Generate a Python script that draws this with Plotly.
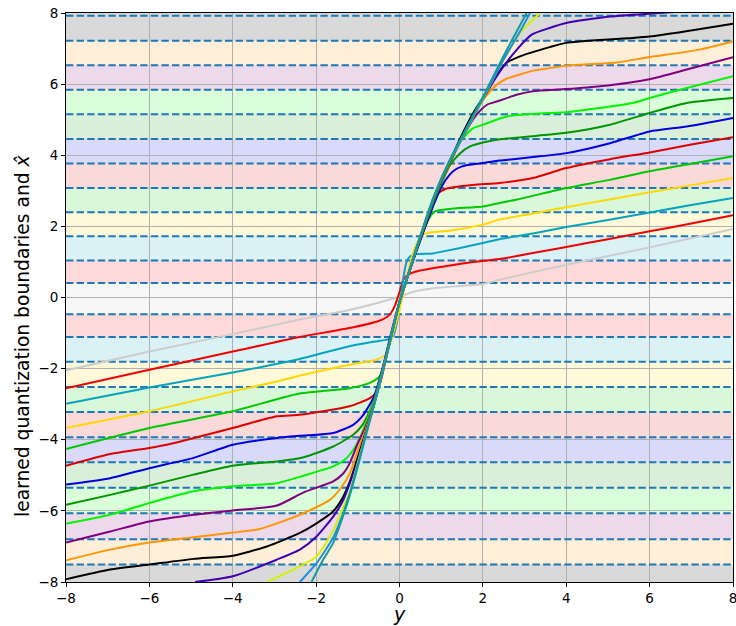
import plotly.graph_objects as go

# ---------------- data ----------------
TICK_VALS = [-8, -6, -4, -2, 0, 2, 4, 6, 8]
TICK_TEXT = ["\u22128", "\u22126", "\u22124", "\u22122", "0", "2", "4", "6", "8"]

# quantization boundaries (dashed lines)
BOUNDS = [-7.51, -6.80, -6.07, -5.35, -4.63, -3.93, -3.22, -2.52, -1.81, -1.11, -0.47,
          0.41, 1.04, 1.72, 2.40, 3.08, 3.77, 4.46, 5.15, 5.84, 6.53, 7.22, 7.92]
BAND_LO = [-8.0, -7.51, -6.80, -6.07, -5.35, -4.63, -3.93, -3.22, -2.52, -1.81, -1.11, -0.47,
           0.41, 1.04, 1.72, 2.40, 3.08, 3.77, 4.46, 5.15, 5.84, 6.53, 7.22, 7.92]
BAND_HI = [-7.51, -6.80, -6.07, -5.35, -4.63, -3.93, -3.22, -2.52, -1.81, -1.11, -0.47, 0.41,
           1.04, 1.72, 2.40, 3.08, 3.77, 4.46, 5.15, 5.84, 6.53, 7.22, 7.92, 8.0]
BAND_KEY = ["black", "orange", "purple", "lime", "dgreen", "blue", "dred", "green", "gold", "cyan", "red", "gray",
            "red", "cyan", "gold", "green", "dred", "blue", "dgreen", "lime", "purple", "orange", "black", "black"]

X_GRAY = [-8, -6, -4, -2.4, -1.2, -0.55, 0.0, 0.3, 0.8, 2.0, 2.4, 4, 6, 8]
Y_GRAY = [-2.05, -1.52, -1.03, -0.62, -0.35, -0.16, 0.02, 0.15, 0.26, 0.38, 0.5, 0.92, 1.41, 1.93]

X_RED = [-8, -6, -4, -2.4, -1.2, -0.5, -0.3, -0.2, -0.1, 0.0, 0.09, 0.2, 0.4, 1.0, 1.6, 2.4, 3.2, 4, 5, 6, 7, 8]
Y_RED = [-2.55, -2.03, -1.52, -1.11, -0.86, -0.66, -0.55, -0.43, -0.2, 0.15, 0.5, 0.64, 0.73, 0.86, 0.97, 1.08,
         1.25, 1.42, 1.64, 1.86, 2.08, 2.31]

X_CYAN = [-8, -6, -4, -2.4, -1.2, -0.6, -0.25, -0.15, -0.08, 0.0, 0.1, 0.17, 0.25, 0.4, 0.8, 1.4, 2.0, 2.4,
          3.2, 4, 5, 6, 7, 8]
Y_CYAN = [-2.99, -2.53, -2.11, -1.73, -1.37, -1.24, -1.17, -1.08, -0.8, -0.3, 0.6, 1.0, 1.15, 1.22, 1.24, 1.38,
          1.53, 1.64, 1.8, 1.98, 2.18, 2.39, 2.6, 2.8]

X_GOLD = [-8, -6, -4, -2.94, -2.4, -1.2, -0.55, -0.35, -0.27, -0.15, 0.0, 0.15, 0.3, 0.45, 0.57, 0.8, 1.2,
          2.0, 2.4, 3.2, 4, 5, 6, 7, 8]
Y_GOLD = [-3.67, -3.2, -2.64, -2.36, -2.2, -1.89, -1.75, -1.62, -1.47, -1.0, -0.35, 0.45, 1.15, 1.6, 1.78,
          1.84, 1.88, 2.05, 2.19, 2.36, 2.54, 2.75, 2.96, 3.16, 3.36]

X_GREEN = [-8, -6, -4, -2.4, -1.2, -0.71, -0.5, -0.43, -0.3, -0.15, 0.0, 0.2, 0.4, 0.6, 0.75, 0.85, 1.2,
           2.0, 2.4, 2.8, 4, 5, 6, 7, 8]
Y_GREEN = [-4.26, -3.67, -3.2, -2.7, -2.55, -2.4, -2.25, -2.12, -1.55, -0.85, -0.15, 0.6, 1.3, 1.95, 2.3,
           2.42, 2.49, 2.56, 2.66, 2.75, 3.08, 3.3, 3.55, 3.76, 3.97]

X_DRED = [-8, -6.94, -6, -5.58, -4, -2.94, -2.4, -1.2, -0.71, -0.55, -0.45, -0.3, -0.15, 0.0, 0.2, 0.4, 0.6,
          0.8, 0.95, 1.1, 1.3, 1.8, 2.4, 3.2, 4, 5.05, 6, 7, 8]
Y_DRED = [-4.73, -4.4, -4.23, -4.14, -3.67, -3.34, -3.3, -3.06, -2.83, -2.65, -2.35, -1.6, -0.85, -0.15, 0.6,
          1.3, 1.95, 2.6, 2.95, 3.05, 3.1, 3.17, 3.22, 3.36, 3.64, 3.89, 4.08, 4.3, 4.51]

X_BLUE = [-8, -6.94, -6, -4.94, -4, -2.94, -2.4, -1.59, -1.11, -0.9, -0.79, -0.6, -0.4, -0.2, 0.0, 0.2, 0.4,
          0.6, 0.8, 1.0, 1.2, 1.37, 1.6, 2.0, 2.4, 3.2, 4, 5.05, 6, 6.89, 8]
Y_BLUE = [-5.26, -5.08, -4.8, -4.51, -4.14, -3.95, -3.89, -3.81, -3.58, -3.35, -3.16, -2.75, -1.95, -1.0,
          -0.12, 0.6, 1.28, 1.93, 2.55, 3.1, 3.45, 3.62, 3.72, 3.78, 3.85, 3.95, 4.06, 4.34, 4.67, 4.81, 5.05]

X_DGREEN = [-8, -6.94, -6, -4.94, -4, -2.94, -2.3, -1.59, -1.11, -0.9, -0.79, -0.6, -0.4, -0.2, 0.0, 0.2,
            0.4, 0.6, 0.8, 1.0, 1.21, 1.45, 1.69, 2.0, 2.41, 3.6, 4, 5.05, 6, 6.89, 8]
Y_DGREEN = [-5.83, -5.55, -5.29, -4.98, -4.73, -4.61, -4.49, -4.19, -3.86, -3.6, -3.38, -2.85, -2.0, -1.05,
            -0.12, 0.6, 1.32, 2.0, 2.65, 3.2, 3.72, 4.05, 4.25, 4.36, 4.45, 4.58, 4.63, 4.86, 5.19, 5.47, 5.61]

X_LIME = [-8, -6.94, -6, -4.94, -4, -2.94, -2.3, -1.59, -1.3, -1.11, -0.95, -0.8, -0.6, -0.4, -0.2, 0.0, 0.2,
          0.4, 0.6, 0.8, 1.0, 1.21, 1.5, 1.75, 2.01, 2.57, 3.6, 4, 5.6, 6, 6.89, 8]
Y_LIME = [-6.36, -6.11, -5.78, -5.45, -5.31, -5.22, -5.01, -4.75, -4.55, -4.28, -3.95, -3.5, -2.88, -2.02,
          -1.06, -0.12, 0.61, 1.34, 2.03, 2.7, 3.26, 3.78, 4.45, 4.75, 4.86, 5.09, 5.19, 5.21, 5.47, 5.61, 5.89, 6.22]

X_PURPLE = [-8, -6.94, -6, -4.94, -4, -2.94, -2.3, -1.59, -1.35, -1.19, -1.0, -0.8, -0.6, -0.4, -0.2, 0.0,
            0.2, 0.4, 0.6, 0.8, 1.0, 1.21, 1.5, 1.85, 2.1, 2.33, 2.81, 3.2, 4, 4.81, 6, 6.89, 8]
Y_PURPLE = [-6.89, -6.58, -6.3, -6.11, -5.99, -5.85, -5.48, -5.17, -4.95, -4.65, -4.1, -3.6, -2.92, -2.03,
            -1.07, -0.12, 0.61, 1.35, 2.04, 2.72, 3.28, 3.8, 4.5, 5.14, 5.42, 5.51, 5.7, 5.8, 5.86, 5.94, 6.14,
            6.41, 6.76]

X_ORANGE = [-8, -6.94, -6, -4.94, -4, -3.35, -2.39, -1.67, -1.4, -1.19, -1.0, -0.8, -0.6, -0.4, -0.2, 0.0,
            0.2, 0.4, 0.6, 0.8, 1.0, 1.21, 1.5, 1.8, 2.1, 2.35, 2.57, 3.21, 3.6, 4, 5.21, 6, 7.2, 8]
Y_ORANGE = [-7.39, -7.09, -6.89, -6.74, -6.61, -6.51, -6.11, -5.69, -5.35, -4.94, -4.3, -3.68, -2.94, -2.04,
            -1.08, -0.12, 0.61, 1.35, 2.05, 2.73, 3.29, 3.82, 4.55, 5.2, 5.7, 6.0, 6.15, 6.38, 6.45, 6.52, 6.61,
            6.76, 6.97, 7.2]

X_BLACK = [-8, -6.94, -6, -4.94, -4, -3.18, -2.39, -1.99, -1.59, -1.35, -1.19, -1.0, -0.8, -0.6, -0.4, -0.2,
           0.0, 0.2, 0.4, 0.6, 0.8, 1.0, 1.21, 1.5, 1.8, 2.05, 2.3, 2.57, 2.89, 3.6, 4, 6, 8]
Y_BLACK = [-7.92, -7.65, -7.51, -7.35, -7.26, -7.0, -6.62, -6.35, -6.01, -5.6, -5.17, -4.5, -3.75, -2.96,
           -2.05, -1.09, -0.12, 0.61, 1.36, 2.06, 2.74, 3.3, 3.84, 4.58, 5.25, 5.7, 6.2, 6.6, 6.78, 7.04, 7.16,
           7.34, 7.7]

X_INDIGO = [-4.9, -4.0, -2.94, -2.39, -1.99, -1.59, -1.35, -1.19, -1.0, -0.8, -0.6, -0.4, -0.2, 0.0, 0.2,
            0.4, 0.6, 0.8, 1.0, 1.21, 1.6, 2.05, 2.41, 2.8, 3.17, 3.6, 4.0, 5.05, 6.25, 7.0, 8.0]
Y_INDIGO = [-8.0, -7.84, -7.37, -7.09, -6.72, -6.16, -5.7, -5.22, -4.6, -3.78, -2.97, -2.05, -1.1, -0.12,
            0.62, 1.36, 2.07, 2.75, 3.31, 3.85, 4.68, 5.68, 6.36, 6.95, 7.39, 7.58, 7.72, 7.9, 8.0, 8.06, 8.15]

X_YGREEN = [-3.18, -2.39, -1.99, -1.59, -1.35, -1.19, -1.0, -0.8, -0.6, -0.4, -0.2, 0.0, 0.2, 0.4, 0.6, 0.8,
            1.0, 1.21, 1.6, 2.05, 2.41, 2.9, 3.37]
Y_YGREEN = [-8.0, -7.56, -7.28, -6.55, -5.9, -5.45, -4.65, -3.8, -2.97, -2.05, -1.1, -0.12, 0.62, 1.36,
            2.07, 2.75, 3.32, 3.86, 4.7, 5.7, 6.5, 7.45, 8.0]

X_DBLUE = [-2.39, -1.99, -1.59, -1.4, -1.19, -1.0, -0.8, -0.6, -0.4, -0.2, 0.0, 0.2, 0.4, 0.6, 0.8, 1.0,
           1.21, 1.6, 2.05, 2.5, 2.9, 3.13]
Y_DBLUE = [-8.0, -7.47, -6.75, -6.22, -5.5, -4.7, -3.82, -2.97, -2.05, -1.1, -0.12, 0.62, 1.37, 2.08, 2.76,
           3.33, 3.865, 4.72, 5.72, 6.7, 7.5, 8.0]

X_TEAL = [-2.11, -1.83, -1.59, -1.4, -1.19, -1.0, -0.8, -0.6, -0.4, -0.2, 0.0, 0.2, 0.4, 0.6, 0.8, 1.0, 1.21,
          1.6, 2.05, 2.5, 3.05]
Y_TEAL = [-8.0, -7.37, -6.9, -6.3, -5.55, -4.75, -3.85, -2.98, -2.06, -1.1, -0.12, 0.62, 1.37, 2.08, 2.76,
          3.34, 3.87, 4.75, 5.75, 6.8, 8.0]

COLORS = {
    "gray": (204, 204, 204), "red": (240, 0, 0), "cyan": (5, 163, 190), "gold": (255, 215, 0),
    "green": (0, 200, 0), "dred": (220, 0, 0), "blue": (0, 0, 224), "dgreen": (0, 150, 0),
    "lime": (0, 245, 0), "purple": (128, 0, 128), "orange": (255, 149, 0), "black": (0, 0, 0),
    "indigo": (64, 0, 176), "ygreen": (212, 240, 0), "dblue": (26, 143, 224), "teal": (18, 156, 156),
}

CURVES = [
    ("gray", X_GRAY, Y_GRAY), ("red", X_RED, Y_RED), ("cyan", X_CYAN, Y_CYAN), ("gold", X_GOLD, Y_GOLD),
    ("green", X_GREEN, Y_GREEN), ("dred", X_DRED, Y_DRED), ("blue", X_BLUE, Y_BLUE),
    ("dgreen", X_DGREEN, Y_DGREEN), ("lime", X_LIME, Y_LIME), ("purple", X_PURPLE, Y_PURPLE),
    ("orange", X_ORANGE, Y_ORANGE), ("black", X_BLACK, Y_BLACK), ("indigo", X_INDIGO, Y_INDIGO),
    ("ygreen", X_YGREEN, Y_YGREEN), ("dblue", X_DBLUE, Y_DBLUE), ("teal", X_TEAL, Y_TEAL),
]


def rgb(c, a=1.0):
    return "rgba(%d,%d,%d,%.3f)" % (c[0], c[1], c[2], a)


fig = go.Figure()

# coloured bands
shapes = []
for lo, hi, key in zip(BAND_LO, BAND_HI, BAND_KEY):
    shapes.append(dict(type="rect", xref="paper", x0=0, x1=1, yref="y", y0=lo, y1=hi,
                       fillcolor=rgb(COLORS[key], 0.15), line=dict(width=0), layer="below"))

# dashed boundaries
for b in BOUNDS:
    fig.add_trace(go.Scatter(x=[-8, 8], y=[b, b], mode="lines",
                             line=dict(color="#1f77b4", width=2, dash="7.4px,3.2px"),
                             hoverinfo="skip", showlegend=False))

for key, xs, ys in CURVES:
    fig.add_trace(go.Scatter(x=xs, y=ys, mode="lines", line=dict(color=rgb(COLORS[key]), width=2,
                                                                 shape="spline", smoothing=0.6),
                             showlegend=False, cliponaxis=True))

axis_common = dict(range=[-8, 8], tickvals=TICK_VALS, ticktext=TICK_TEXT, showgrid=True,
                   gridcolor="#b0b0b0", gridwidth=1, zeroline=False, showline=True, linecolor="black",
                   linewidth=1, mirror=True, ticks="outside", ticklen=4, tickcolor="black",
                   ticklabeloverflow="allow", automargin=False,
                   tickfont=dict(family="DejaVu Sans", size=13.5, color="black"))

fig.update_layout(
    width=736, height=626,
    margin=dict(l=66, r=3, t=13, b=44),
    paper_bgcolor="white", plot_bgcolor="white",
    xaxis=axis_common, yaxis=axis_common,
    shapes=shapes,
    annotations=[
        dict(text="<i>y</i>", xref="paper", yref="paper", x=0.5, y=-0.057, xanchor="center",
             yanchor="middle", showarrow=False, font=dict(family="DejaVu Sans", size=19, color="black")),
        dict(text="learned quantization boundaries and <i>x\u0302</i>", xref="paper", yref="paper",
             x=-0.066, y=0.434, xanchor="center", yanchor="middle", textangle=-90, showarrow=False,
             font=dict(family="DejaVu Sans", size=18.7, color="black")),
    ],
)

# remove the default page margin so the figure fills the window exactly; hide the mode bar
fig.write_html("out.html", config={"displayModeBar": False},
               post_script="document.body.style.margin='0px';document.body.style.overflow='hidden';")
